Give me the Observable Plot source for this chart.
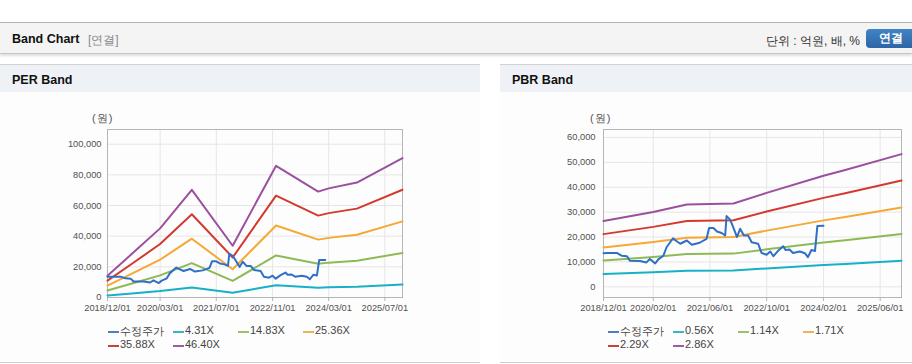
<!DOCTYPE html>
<html><head><meta charset="utf-8">
<script src="https://cdn.jsdelivr.net/npm/d3@7"></script>
<script src="https://cdn.jsdelivr.net/npm/@observablehq/plot@0.6"></script>
<style>
html,body{margin:0;padding:0;background:#fff;}
body{width:912px;height:364px;position:relative;overflow:hidden;font-family:"Liberation Sans",Arial,sans-serif;}
.hdr{position:absolute;left:0;top:22px;width:912px;height:30px;background:#f4f4f4;border-top:1px solid #b3b3b3;border-bottom:1px solid #c6c6c6;box-shadow:0 2px 2px rgba(0,0,0,0.12);}
.hdr .t{position:absolute;left:12px;top:9px;font-weight:bold;font-size:12.5px;color:#111;}
.hdr .s{position:absolute;left:88px;top:9px;font-size:12px;color:#8a8a8a;}
.hdr .u{position:absolute;right:52px;top:10px;font-size:12px;color:#333;}
.hdr .b{position:absolute;left:866px;top:6px;width:52px;height:19px;border-radius:4px;background:linear-gradient(#4184c4,#2c65a6);color:#fff;font-weight:bold;font-size:12px;line-height:19px;text-align:center;padding-right:2px;box-sizing:border-box;}
.panel{position:absolute;top:64px;height:297px;background:#fdfdfd;border-top:1px solid #d2d2d2;border-bottom:1px solid #cfcfcf;}
.panel .ph{position:absolute;left:0;top:0;right:0;height:27px;background:#eef2f7;}
.panel .ph span{position:absolute;left:12px;top:8px;font-weight:bold;font-size:12.5px;color:#111;}
.panel .chart{position:absolute;left:0;top:28px;}
.panel .unit{position:absolute;left:92px;top:46px;font-size:11px;color:#555;letter-spacing:1px;}
.legend{position:absolute;left:0;top:266px;font-size:11px;color:#444;}
.legend .it{position:absolute;white-space:nowrap;}
.legend .sw{position:absolute;left:0;width:11px;height:2px;}
.legend .tx{position:absolute;left:12px;top:-7px;}
</style></head>
<body>
<div class="hdr"><span class="t">Band Chart</span><span class="s">[연결]</span><span class="u">단위 : 억원, 배, %</span><span class="b">연결</span></div>
<div class="panel" id="p1" style="left:0;width:480px;"><div class="ph"><span>PER Band</span></div><div class="unit">(원)</div><div class="chart" id="c1"></div><div class="legend" id="l1"></div></div>
<div class="panel" id="p2" style="left:500px;width:412px;"><div class="ph"><span>PBR Band</span></div><div class="unit" style="left:90px">(원)</div><div class="chart" id="c2"></div><div class="legend" id="l2"></div></div>
<script>
// ---- data ----
const priceName = "수정주가";
const priceDates = ["2018-12-01","2019-01-01","2019-03-25","2019-05-05","2019-06-20","2019-07-15","2019-10-10","2019-12-05","2020-01-03","2020-02-18","2020-03-15","2020-04-28","2020-05-25","2020-07-20","2020-08-05","2020-09-20","2020-11-15","2020-12-28","2021-03-05","2021-05-03","2021-05-25","2021-07-01","2021-08-01","2021-09-10","2021-10-10","2021-10-22","2021-11-20","2021-12-05","2022-01-20","2022-02-15","2022-03-20","2022-04-25","2022-05-25","2022-07-20","2022-08-18","2022-10-01","2022-11-01","2022-11-28","2023-01-10","2023-02-20","2023-03-12","2023-04-15","2023-05-15","2023-07-12","2023-08-25","2023-09-20","2023-10-20","2023-11-20","2023-12-10","2024-02-01"];
const priceValues = [13500,13600,13600,12500,12300,10500,10400,9800,11200,9400,11000,12500,15900,19500,18800,17300,18600,16900,17700,19300,23600,23600,22200,21600,20600,28400,27100,25500,20000,23300,20600,20600,17900,17300,13600,12900,14200,12300,14600,16300,14800,15000,13600,14200,13500,11900,14800,14400,24400,24500];

const perNames = ["4.31X","14.83X","25.36X","35.88X","46.40X"];
const perDates = ["2018-12-01","2019-07-01","2020-03-01","2020-12-01","2021-11-20","2022-12-01","2023-12-01","2024-03-01","2024-11-01","2025-12-01"];
const per431  = [1319,2646,4189,6521,3138,7978,6418,6612,6965,8443];
const per1483 = [4538,9106,14415,22438,10796,27450,22082,22749,23965,29052];
const per2536 = [7760,15571,24650,38370,18462,46941,37761,38902,40982,49680];
const per3588 = [10979,22030,34875,54286,26121,66414,53425,55040,57982,70289];
const per4640 = [14198,28490,45101,70203,33779,85886,69090,71178,74982,90898];
const perXTicks = ["2018-12-01","2020-03-01","2021-07-01","2022-11-01","2024-03-01","2025-07-01"];
const perYTicks = [0,20000,40000,60000,80000,100000];

const pbrNames = ["0.56X","1.14X","1.71X","2.29X","2.86X"];
const pbrDates = ["2018-12-01","2020-02-01","2020-11-15","2021-12-20","2022-10-01","2024-02-01","2024-08-05","2025-12-01"];
const pbr056 = [5175,5888,6467,6548,7391,8739,9189,10436];
const pbr114 = [10535,11986,13166,13329,15047,17790,18706,21245];
const pbr171 = [15802,17979,19749,19993,22570,26685,28059,31868];
const pbr229 = [21162,24077,26447,26775,30226,35735,37577,42676];
const pbr286 = [26429,30070,33030,33439,37749,44630,46930,53299];
const pbrXTicks = ["2018-12-01","2020-02-01","2021-06-01","2022-10-01","2024-02-01","2025-06-01"];
const pbrYTicks = [0,10000,20000,30000,40000,50000,60000];

const colors = ["#2f70c6","#17b0c6","#8dba55","#f5a833","#d23a2f","#9a509e"];
const legendColors = ["#4a7fc0","#3bb5c8","#9cc06c","#eeb258","#c9433a","#9a5ea0"];

// ---- build ----
const D = s => new Date(s + "T00:00:00Z");
function rows(dates, vals, name){ return dates.map((d,i)=>({date:D(d), value:vals[i], series:name})); }

function makeChart(el, cfg){
  const names = [priceName, ...cfg.names];
  let data = [];
  cfg.bands.forEach((b,i)=>{ data = data.concat(rows(cfg.dates, b, cfg.names[i])); });
  const price = rows(priceDates, priceValues, priceName);
  const xt = cfg.xTicks.map(D);
  const chart = Plot.plot({
    width: cfg.width, height: 230,
    marginLeft: cfg.ml, marginRight: cfg.mr, marginTop: 36, marginBottom: 26,
    style: {fontFamily: "'Liberation Sans', Arial, sans-serif", fontSize: "9.3px", color: "#505050", background: "transparent", overflow: "visible"},
    x: {type: "utc", domain: [D("2018-12-01"), D("2025-12-01")]},
    y: {domain: cfg.yDomain},
    color: {domain: names, range: colors},
    marks: [
      Plot.gridY(cfg.yTicks, {stroke: "#e6e6e6", strokeOpacity: 1}),
      Plot.gridX(xt, {stroke: "#e6e6e6", strokeOpacity: 1}),
      Plot.frame({stroke: "#b5b5b5"}),
      Plot.axisX(xt, {tickFormat: d3.utcFormat("%Y/%m/%d"), tickSize: 4, tickPadding: 3, stroke: "#b5b5b5", label: null}),
      Plot.axisY(cfg.yTicks, {tickFormat: d3.format(","), tickSize: 0, tickPadding: cfg.tp, label: null}),
      Plot.line(data, {x: "date", y: "value", z: "series", stroke: "series", strokeWidth: 2}),
      Plot.line(price, {x: "date", y: "value", stroke: "series", strokeWidth: 2})
    ]
  });
  el.appendChild(chart);
}

function makeLegend(el, names){
  const all = [priceName, ...names];
  all.forEach((n,i)=>{
    const row = Math.floor(i/4), col = i%4;
    const it = document.createElement("div");
    it.className = "it";
    it.style.left = (108 + col*65) + "px";
    it.style.top = (row*14) + "px";
    const sw = document.createElement("div"); sw.className = "sw"; sw.style.background = legendColors[i];
    const tx = document.createElement("div"); tx.className = "tx"; tx.textContent = n;
    it.appendChild(sw); it.appendChild(tx); el.appendChild(it);
  });
}

makeChart(document.getElementById("c1"), {width: 480, ml: 107, mr: 78, names: perNames, dates: perDates,
  bands: [per431, per1483, per2536, per3588, per4640], xTicks: perXTicks, yTicks: perYTicks, yDomain: [0, 109600], tp: 6});
makeChart(document.getElementById("c2"), {width: 412, ml: 103, mr: 11, names: pbrNames, dates: pbrDates,
  bands: [pbr056, pbr114, pbr171, pbr229, pbr286], xTicks: pbrXTicks, yTicks: pbrYTicks, yDomain: [-4300, 63200], tp: 8});
makeLegend(document.getElementById("l1"), perNames);
makeLegend(document.getElementById("l2"), pbrNames);
</script>
</body></html>
